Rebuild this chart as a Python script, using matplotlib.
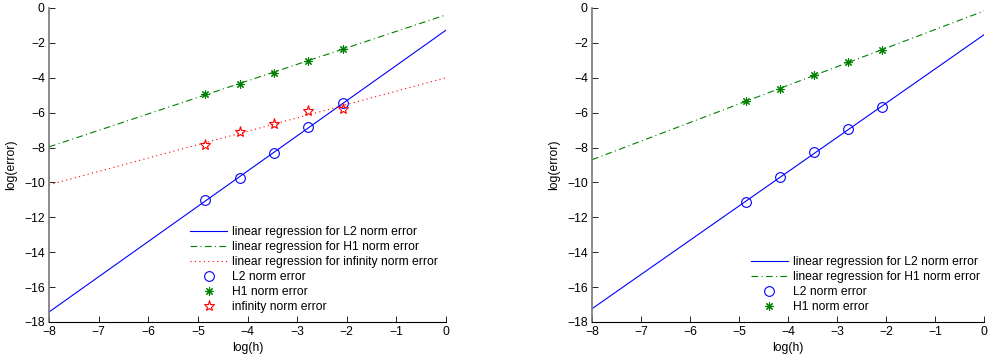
import numpy as np
import matplotlib
matplotlib.use("Agg")
import matplotlib.pyplot as plt

plt.rcParams['font.family'] = ['Liberation Sans', 'DejaVu Sans']

# data
log_h = [-4.852, -4.159, -3.466, -2.773, -2.079]

left_l2 = [-11.0, -9.75, -8.3, -6.85, -5.45]
left_h1 = [-4.94, -4.37, -3.70, -3.01, -2.34]
left_inf = [-7.85, -7.10, -6.65, -5.88, -5.80]

right_l2 = [-11.1, -9.7, -8.27, -6.95, -5.67]
right_h1 = [-5.32, -4.65, -3.85, -3.10, -2.40]

x_ticks = [-8, -7, -6, -5, -4, -3, -2, -1, 0]
y_ticks = [0, -2, -4, -6, -8, -10, -12, -14, -16, -18]

BLUE = (0, 0, 1)
GREEN = (0, 0.5, 0)
RED = (1, 0, 0)
FS = 8.7

fig = plt.figure(figsize=(9.88, 3.6), dpi=100)
ax1 = fig.add_axes([49/988, 1-322/360, (446-49)/988, (322-8)/360])
ax2 = fig.add_axes([592/988, 1-322/360, (984-592)/988, (322-8)/360])

xs = np.array([-8.0, 0.0])


def fit_line(x, y):
    p = np.polyfit(x, y, 1)
    return np.polyval(p, xs)


def style(ax):
    ax.set_xlim(-8, 0)
    ax.set_ylim(-18, 0)
    ax.set_xticks(x_ticks)
    ax.set_yticks(y_ticks)
    ax.set_xticklabels([str(t).replace('-', '\u2212') for t in x_ticks])
    ax.set_yticklabels([str(t).replace('-', '\u2212') for t in y_ticks])
    ax.spines['top'].set_visible(False)
    ax.spines['right'].set_visible(False)
    ax.spines['left'].set_color('#777777')
    ax.spines['left'].set_linewidth(1.2)
    ax.spines['bottom'].set_color('black')
    ax.spines['bottom'].set_linewidth(0.8)
    ax.tick_params(direction='in', length=4, width=0.6, labelsize=FS, colors='black', pad=3)
    ax.set_xlabel('log(h)', fontsize=FS, labelpad=3)
    ax.set_ylabel('log(error)', fontsize=FS, labelpad=5)
    ax.patch.set_visible(False)


leg_kw = dict(loc='lower right', frameon=False, fontsize=FS,
              handlelength=3.0, handletextpad=0.45, labelspacing=0.25, borderpad=0.0)

# left
ax1.plot(xs, fit_line(log_h, left_l2), '-', color=BLUE, lw=0.8, label='linear regression for L2 norm error')
ax1.plot(xs, fit_line(log_h, left_h1), '-.', color=GREEN, lw=0.8, dashes=(6, 3, 1, 3), label='linear regression for H1 norm error')
ax1.plot(xs, fit_line(log_h, left_inf), ':', color=RED, lw=0.8, dashes=(1, 3), label='linear regression for infinity norm error')
ax1.plot(log_h, left_l2, 'o', mfc='none', mec=BLUE, ms=7, mew=0.8, ls='none', label='L2 norm error')
ax1.plot(log_h, left_h1, marker=(8, 2, 0), color=GREEN, ms=6, mew=0.8, ls='none', label='H1 norm error')
ax1.plot(log_h, left_inf, '*', mfc='none', mec=RED, ms=8, mew=0.8, ls='none', label='infinity norm error')
style(ax1)
ax1.legend(bbox_to_anchor=(444/988, 1-319/360), bbox_transform=fig.transFigure, **leg_kw)

# right
ax2.plot(xs, fit_line(log_h, right_l2), '-', color=BLUE, lw=0.8, label='linear regression for L2 norm error')
ax2.plot(xs, fit_line(log_h, right_h1), '-.', color=GREEN, lw=0.8, dashes=(6, 3, 1, 3), label='linear regression for H1 norm error')
ax2.plot(log_h, right_l2, 'o', mfc='none', mec=BLUE, ms=7, mew=0.8, ls='none', label='L2 norm error')
ax2.plot(log_h, right_h1, marker=(8, 2, 0), color=GREEN, ms=6, mew=0.8, ls='none', label='H1 norm error')
style(ax2)
ax2.legend(bbox_to_anchor=(986/988, 1-319/360), bbox_transform=fig.transFigure, **leg_kw)

fig.savefig('out.png', dpi=100)
